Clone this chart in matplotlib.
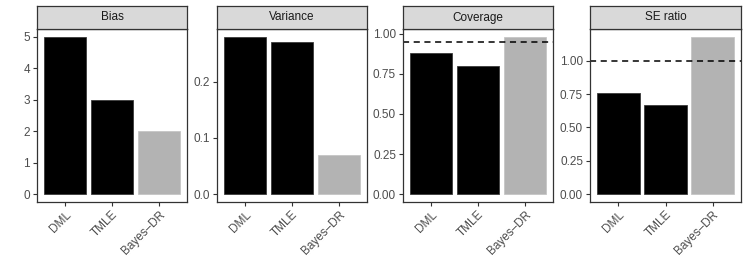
import matplotlib.pyplot as plt

plt.rcParams['font.family'] = ['Liberation Sans', 'DejaVu Sans']

methods = ['DML', 'TMLE', 'Bayes–DR']
bias = [5, 3, 2]
variance = [0.28, 0.27, 0.07]
coverage = [0.88, 0.80, 0.98]
se_ratio = [0.76, 0.67, 1.18]

panels = ['Bias', 'Variance', 'Coverage', 'SE ratio']
values = [bias, variance, coverage, se_ratio]
yticks = [[0, 1, 2, 3, 4, 5], [0.0, 0.1, 0.2],
          [0.0, 0.25, 0.5, 0.75, 1.0], [0.0, 0.25, 0.5, 0.75, 1.0]]
yfmt = ['{:.0f}', '{:.1f}', '{:.2f}', '{:.2f}']
ref_lines = [None, None, 0.95, 1.0]

fills = ['black', 'black', '#b3b3b3']
edges = ['#3a3a3a', '#3a3a3a', '#c6c6c6']

W, H = 747, 280
fig = plt.figure(figsize=(W / 100, H / 100), dpi=100)

# pixel layout of each panel: left, right
xpos = [(37, 187), (217, 367), (403, 553), (590, 741)]
strip_top, plot_top, plot_bot = 6, 29, 202

for (x0, x1), name, vals, ticks, fmt, ref in zip(xpos, panels, values, yticks, yfmt, ref_lines):
    ax = fig.add_axes([x0 / W, 1 - plot_bot / H, (x1 - x0) / W, (plot_bot - plot_top) / H])
    pos = range(len(methods))
    ax.bar(pos, vals, width=0.9, color=fills, edgecolor=edges, linewidth=0.6)
    if ref is not None:
        ax.axhline(ref, color='black', linestyle=(0, (4, 3)), linewidth=1.1)
    top = max(max(vals), 0)
    pad = top * 0.05
    ax.set_ylim(-pad, top + pad)
    ax.set_xlim(-0.6, 2.6)
    ax.set_xticks(list(pos))
    ax.set_xticklabels(methods, rotation=45, ha='right', rotation_mode='anchor')
    ax.set_yticks(ticks)
    ax.set_yticklabels([fmt.format(t) for t in ticks])
    ax.tick_params(axis='both', labelsize=8.5, labelcolor='#4d4d4d', color='#333333',
                   length=3, width=0.8, pad=2)
    for s in ax.spines.values():
        s.set_color('#333333')
        s.set_linewidth(0.9)

    sax = fig.add_axes([x0 / W, 1 - plot_top / H, (x1 - x0) / W, (plot_top - strip_top) / H])
    sax.set_facecolor('#d9d9d9')
    sax.set_xticks([])
    sax.set_yticks([])
    for s in sax.spines.values():
        s.set_color('#333333')
        s.set_linewidth(0.9)
    sax.text(0.5, 0.5, name, ha='center', va='center', fontsize=8.5, color='#1a1a1a',
             transform=sax.transAxes)

fig.savefig('out.png', dpi=100)
